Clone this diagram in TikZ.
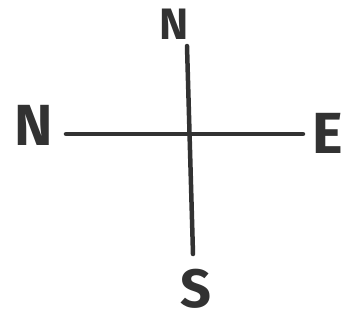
\documentclass[tikz,border=0pt]{standalone}
\usepackage{fontspec}
\setmainfont{Fira Sans}
\usepackage{xcolor}
\usepackage{tikz}
\usetikzlibrary{positioning,calc}
\definecolor{inkgray}{RGB}{50,50,50}
\tikzset{
  axisline/.style={line width=4.5pt, draw=inkgray, line cap=round},
  dirbig/.style={text=inkgray, font=\bfseries\fontsize{58}{58}\selectfont, inner sep=0pt},
  dirsmall/.style={text=inkgray, font=\bfseries\fontsize{44}{44}\selectfont, inner sep=0pt}
}
\begin{document}
\begin{tikzpicture}[x=1pt, y=-1pt]
\useasboundingbox (0,0) rectangle (360,325);
\coordinate (top) at (187,46);
\coordinate (bot) at (193,254);
\coordinate (lft) at (66,134);
\coordinate (rgt) at (303,134);
\node[dirsmall] (ntop) at (174,24) {N};
\node[dirbig] (nleft) at (34,125) {N};
\node[dirbig] (east) at (328,133) {E};
\node[dirbig, font=\bfseries\fontsize{54}{54}\selectfont] (south) at (196,289) {S};
\draw[axisline] (top) -- (bot);
\draw[axisline] (lft) -- (rgt);
\end{tikzpicture}
\end{document}
